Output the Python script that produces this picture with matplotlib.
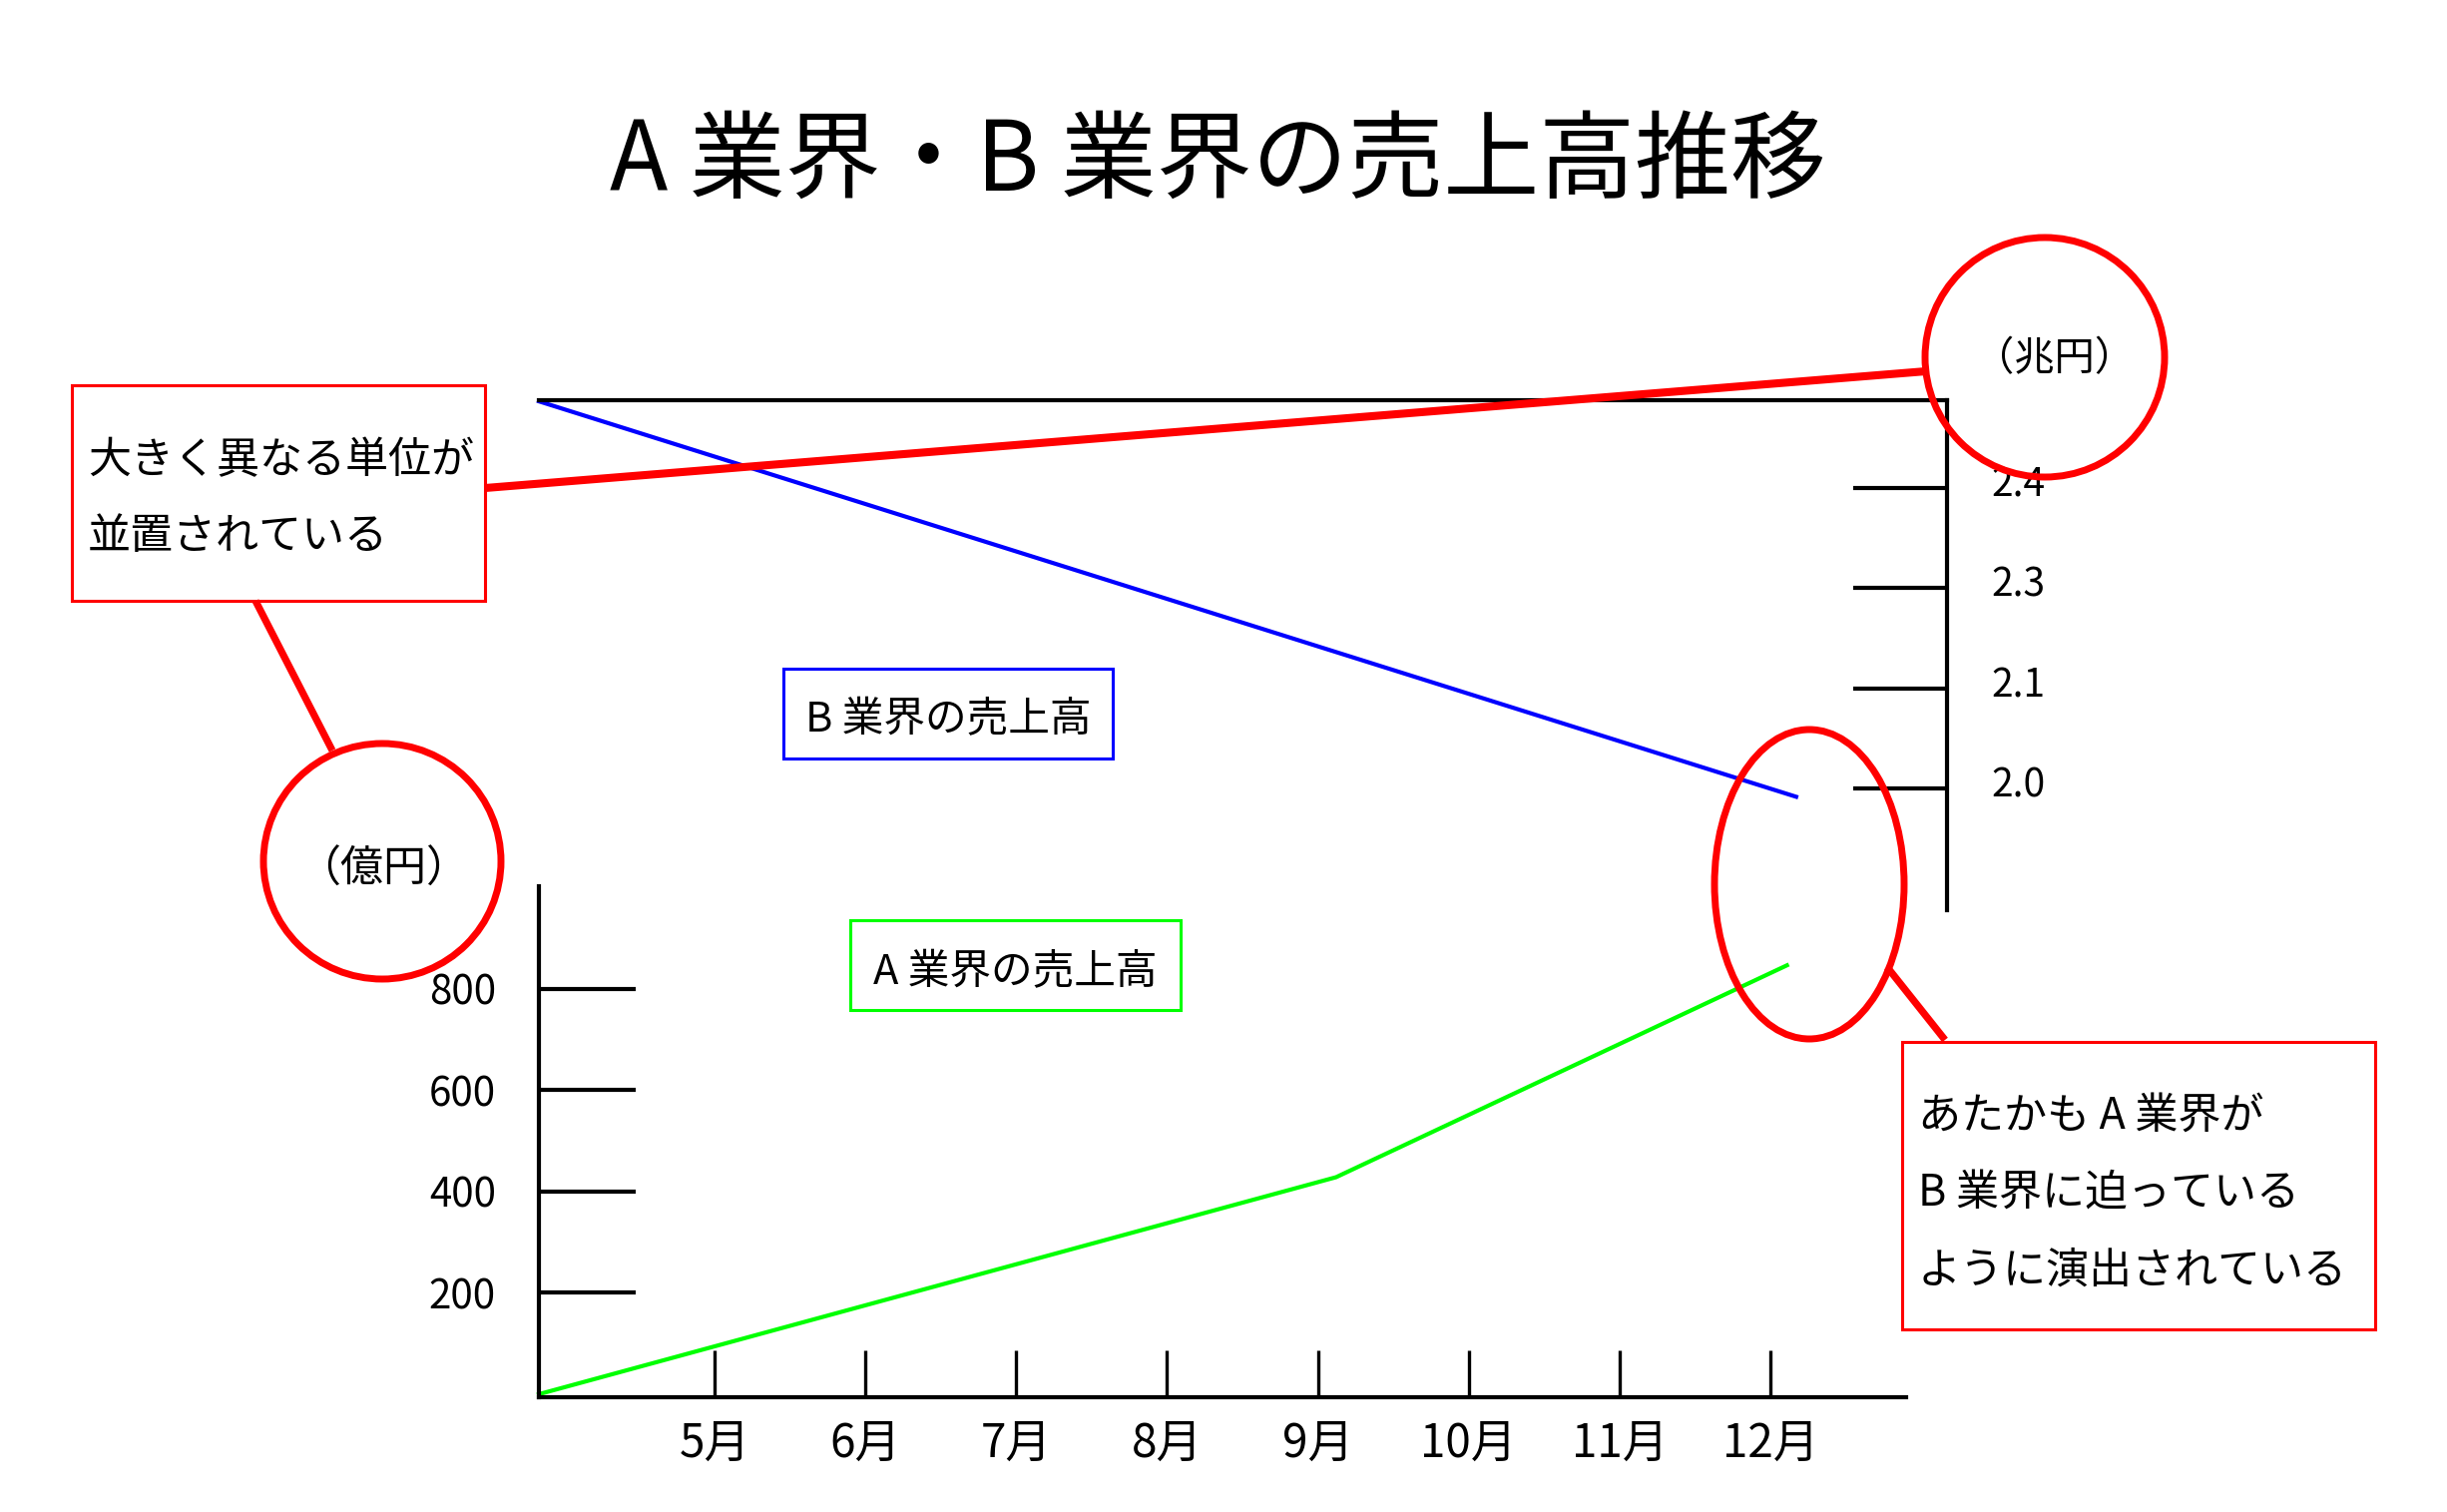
import matplotlib
matplotlib.use('Agg')
import matplotlib.pyplot as plt
import matplotlib.transforms as mtransforms
from matplotlib.patches import Ellipse, Rectangle

plt.rcParams['font.family'] = ['Noto Sans CJK JP', 'DejaVu Sans']

# Dati
mesi_tick = [5, 6, 7, 8, 9, 10, 11, 12]
mesi_label = ['5月', '6月', '7月', '8月', '9月', '10月', '11月', '12月']

# A 業界 (億円)
a_mesi = [3.835, 9.12, 12.11]
a_vendite = [0, 428, 846]
a_yticks = [200, 400, 600, 800]

# B 業界 (兆円)
b_mesi = [3.835, 12.17]
b_vendite = [2.386, 1.992]
b_ytick_pos = [2.0, 2.1, 2.2, 2.3]
b_ytick_label = ['2.0', '2.1', '2.3', '2.4']

W, H = 2452, 1515
fig = plt.figure(figsize=(W / 100, H / 100), dpi=100)
fig.patch.set_facecolor('white')

# Asse A (in basso a sinistra)
ax_a = fig.add_axes([540 / W, 115 / H, 1370 / W, 512 / H])
ax_a.patch.set_alpha(0)
ax_a.plot(a_mesi, a_vendite, color='#00ff00', lw=3, clip_on=False)
ax_a.set_xlim(3.835, 12.90)
ax_a.set_ylim(-6, 1002)
for s in ['top', 'right']:
    ax_a.spines[s].set_visible(False)
for s in ['left', 'bottom']:
    ax_a.spines[s].set_linewidth(3)
ax_a.set_yticks(a_yticks)
ax_a.set_yticklabels([str(v) for v in a_yticks])
ax_a.set_xticks(mesi_tick)
ax_a.set_xticklabels(mesi_label)
ax_a.tick_params(axis='y', direction='in', length=70, width=3, pad=31, labelsize=29)
ax_a.tick_params(axis='x', direction='in', length=34, width=2.4, pad=16, labelsize=33)

# Asse B (in alto a destra)
ax_b = fig.add_axes([540 / W, 603 / H, 1411 / W, 511.5 / H])
ax_b.patch.set_alpha(0)
ax_b.plot(b_mesi, b_vendite, color='#0000ff', lw=3, clip_on=False)
ax_b.set_xlim(3.835, 13.17)
ax_b.set_ylim(1.879, 2.3876)
for s in ['left', 'bottom']:
    ax_b.spines[s].set_visible(False)
for s in ['top', 'right']:
    ax_b.spines[s].set_linewidth(3)
ax_b.set_xticks([])
ax_b.yaxis.tick_right()
ax_b.set_yticks(b_ytick_pos)
ax_b.set_yticklabels(b_ytick_label)
ax_b.tick_params(axis='y', direction='in', length=68, width=3, pad=32, labelsize=28)
# le etichette stanno un po' sopra le tacche
su = mtransforms.ScaledTranslation(0, 5 / 72, fig.dpi_scale_trans)
for lab in ax_b.get_yticklabels():
    lab.set_transform(lab.get_transform() + su)

# Strato per titolo e annotazioni (coordinate in pixel)
ov = fig.add_axes([0, 0, 1, 1])
ov.set_xlim(0, W)
ov.set_ylim(H, 0)
ov.axis('off')
ov.patch.set_alpha(0)

ov.text(1220, 163, 'A 業界・B 業界の売上高推移', fontsize=69, ha='center', va='center')

rosso = '#ff0000'

# Etichette delle serie
ov.add_patch(Rectangle((785, 670), 330, 90, fill=False, ec='#0000ff', lw=2.2))
ov.text(950, 722, 'B 業界の売上高', fontsize=30, ha='center', va='center')
ov.add_patch(Rectangle((852, 922), 331, 90, fill=False, ec='#00ff00', lw=2.2))
ov.text(1017, 975, 'A 業界の売上高', fontsize=30, ha='center', va='center')

# Riquadro 1
ov.add_patch(Rectangle((72, 386), 414, 216, fill=False, ec=rosso, lw=2.2))
ov.text(88, 462, '大きく異なる単位が', fontsize=31, ha='left', va='center')
ov.text(88, 538, '並置されている', fontsize=31, ha='left', va='center')
ov.plot([486, 1930], [489, 372], color=rosso, lw=5.8, solid_capstyle='butt')
ov.plot([256, 333], [602, 752], color=rosso, lw=5.2, solid_capstyle='butt')

# Ellissi delle unita
ov.add_patch(Ellipse((383, 863), 238, 236, fill=False, ec=rosso, lw=5))
ov.text(384, 872, '（億円）', fontsize=31, ha='center', va='center')
ov.add_patch(Ellipse((2049, 358), 240, 240, fill=False, ec=rosso, lw=5))
ov.text(2059, 360, '（兆円）', fontsize=29, ha='center', va='center')

# Ellisse finale e riquadro 2
ov.add_patch(Ellipse((1813, 886), 190, 310, fill=False, ec=rosso, lw=5))
ov.plot([1891, 1949], [969, 1042], color=rosso, lw=5.2, solid_capstyle='butt')
ov.add_patch(Rectangle((1906, 1044), 474, 288, fill=False, ec=rosso, lw=2.2))
ov.text(1922, 1119, 'あたかも A 業界が', fontsize=31, ha='left', va='center')
ov.text(1922, 1197, 'B 業界に迫っている', fontsize=31, ha='left', va='center')
ov.text(1922, 1274, 'ように演出されている', fontsize=31, ha='left', va='center')

fig.savefig('out.png', dpi=100, facecolor='white')
